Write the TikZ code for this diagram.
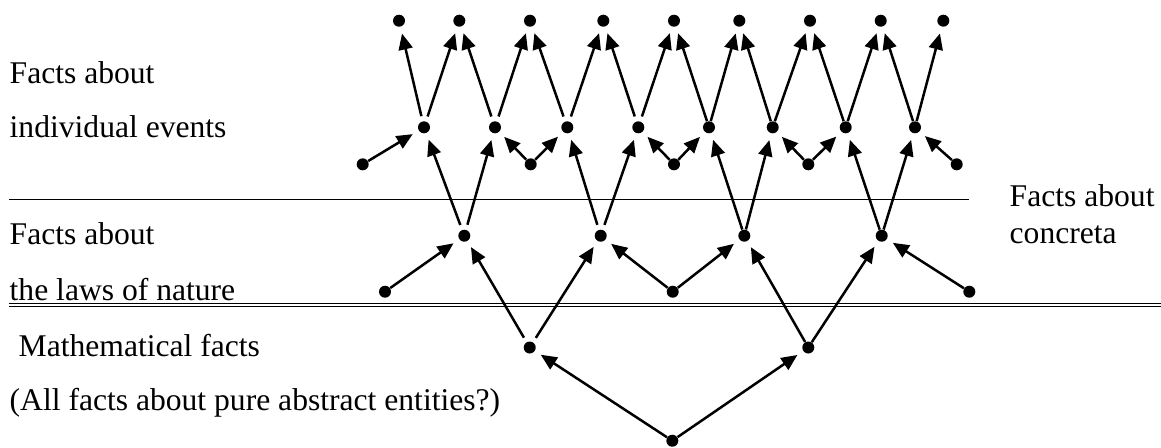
\documentclass[tikz,border=0pt]{standalone}
\usepackage{fontspec}
\setmainfont{Liberation Serif}
\usetikzlibrary{arrows.meta}

\begin{document}
\begin{tikzpicture}[x=0.5pt,y=-0.5pt]
\tikzstyle{dot}=[circle, fill, inner sep=0pt, minimum size=6pt]
\tikzstyle{txt}=[anchor=base west, inner sep=0pt, font=\fontsize{15.8}{19}\selectfont]
\tikzstyle{arr}=[-{Triangle[length=8pt,width=7pt]}, line width=1.25pt, shorten >=3.4pt]
\tikzstyle{gap}=[shorten <=2.5pt]
\useasboundingbox (0,0) rectangle (1161,447);

% individual events
\node[dot] (T1) at (399,20.7) {};
\node[dot] (T2) at (459.3,20.7) {};
\node[dot] (T3) at (530,20.7) {};
\node[dot] (T4) at (603.3,20.7) {};
\node[dot] (T5) at (674,20.7) {};
\node[dot] (T6) at (739.3,20.7) {};
\node[dot] (T7) at (810,20.7) {};
\node[dot] (T8) at (880.7,20.7) {};
\node[dot] (T9) at (943.3,20.7) {};
\node[dot] (E1) at (424,127.3) {};
\node[dot] (E2) at (495,127.3) {};
\node[dot] (E3) at (567.3,127.3) {};
\node[dot] (E4) at (638.3,127.3) {};
\node[dot] (E5) at (709,127.3) {};
\node[dot] (E6) at (772.7,127.3) {};
\node[dot] (E7) at (845.7,127.3) {};
\node[dot] (E8) at (915,127.3) {};
\node[dot] (S1) at (362.7,164.3) {};
\node[dot] (S2) at (530.7,164.3) {};
\node[dot] (S3) at (674,164.3) {};
\node[dot] (S4) at (808.3,164.3) {};
\node[dot] (S5) at (956.7,164.3) {};

% laws of nature
\node[dot] (L1) at (464.3,235.7) {};
\node[dot] (L2) at (600.7,235.7) {};
\node[dot] (L3) at (744.3,235.7) {};
\node[dot] (L4) at (881.7,235.7) {};
\node[dot] (R1) at (385,291.7) {};
\node[dot] (R2) at (672.7,291.7) {};
\node[dot] (R3) at (969.3,291.7) {};

% mathematical facts
\node[dot] (M1) at (529.7,347.5) {};
\node[dot] (M2) at (808.3,347.5) {};
\node[dot] (B) at (672.3,440.7) {};

\draw[line width=0.65pt] (9,199.3) -- (968.5,199.3);
\draw[line width=0.5pt, double, double distance=0.8pt] (9,305.2) -- (1161,305.2);

\node[txt] (F1) at (9.3,83.3) {Facts about};
\node[txt] (F2) at (9.3,137.3) {individual events};
\node[txt] (F3) at (9.3,244.3) {Facts about};
\node[txt] (F4) at (9.3,300) {the laws of nature};
\node[txt] (F5) at (18.3,356) {Mathematical facts};
\node[txt] (F6) at (9.3,410) {(All facts about pure abstract entities?)};
\node[txt] (F7) at (1009.3,206) {Facts about};
\node[txt] (F8) at (1009.3,243.3) {concreta};

\draw[arr,gap] (E1) -- (T1); \draw[arr,gap] (E1) -- (T2);
\draw[arr,gap] (E2) -- (T2); \draw[arr,gap] (E2) -- (T3);
\draw[arr,gap] (E3) -- (T3); \draw[arr,gap] (E3) -- (T4);
\draw[arr,gap] (E4) -- (T4); \draw[arr,gap] (E4) -- (T5);
\draw[arr] (E5) -- (T5); \draw[arr] (E5) -- (T6);
\draw[arr] (E6) -- (T6); \draw[arr] (E6) -- (T7);
\draw[arr] (E7) -- (T7); \draw[arr] (E7) -- (T8);
\draw[arr] (E8) -- (T8); \draw[arr] (E8) -- (T9);
\draw[arr] (S1) -- (E1);
\draw[arr] (S2) -- (E2); \draw[arr] (S2) -- (E3);
\draw[arr] (S3) -- (E4); \draw[arr] (S3) -- (E5);
\draw[arr] (S4) -- (E6); \draw[arr] (S4) -- (E7);
\draw[arr] (S5) -- (E8);
\draw[arr,gap] (L1) -- (E1); \draw[arr,gap] (L1) -- (E2);
\draw[arr,gap] (L2) -- (E3); \draw[arr,gap] (L2) -- (E4);
\draw[arr] (L3) -- (E5); \draw[arr] (L3) -- (E6);
\draw[arr] (L4) -- (E7); \draw[arr] (L4) -- (E8);
\draw[arr] (R1) -- (L1);
\draw[arr] (R2) -- (L2); \draw[arr] (R2) -- (L3);
\draw[arr] (R3) -- (L4);
\draw[arr,gap] (M1) -- (L1); \draw[arr,gap] (M1) -- (L2);
\draw[arr] (M2) -- (L3); \draw[arr] (M2) -- (L4);
\draw[arr] (B) -- (M1); \draw[arr] (B) -- (M2);
\end{tikzpicture}
\end{document}
